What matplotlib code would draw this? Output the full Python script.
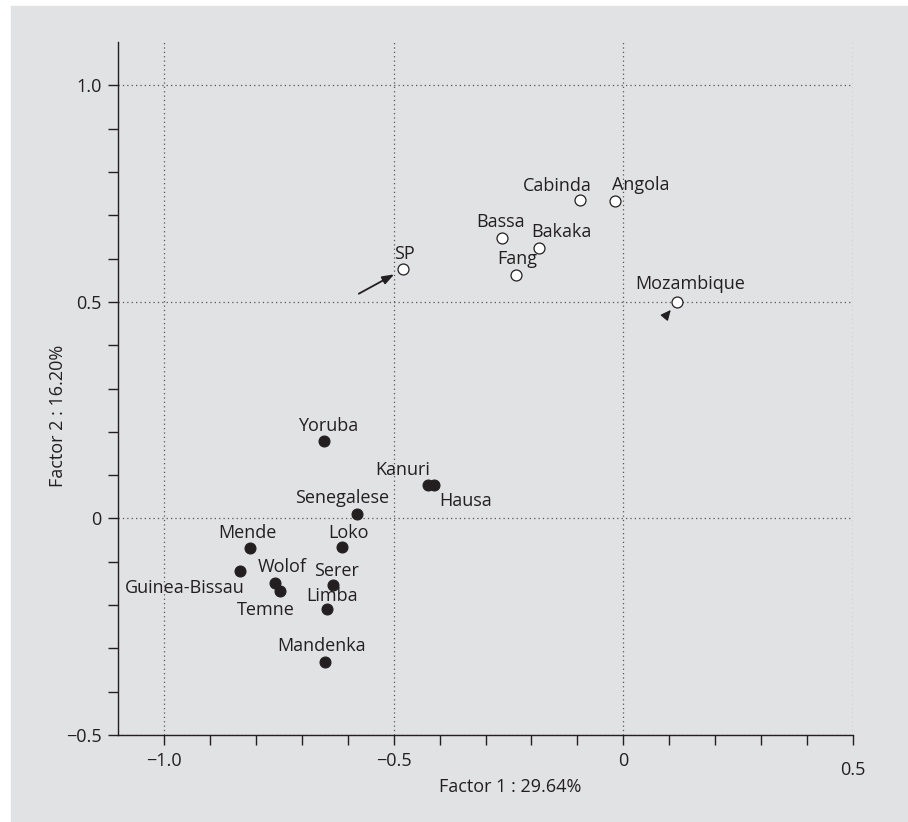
import matplotlib.pyplot as plt
from matplotlib.patches import Rectangle
from matplotlib.ticker import FixedLocator, NullFormatter

plt.rcParams['font.family'] = ['Open Sans', 'DejaVu Sans']
plt.rcParams['axes.unicode_minus'] = True

INK = '#231f20'
BG = '#e1e2e4'

# Correspondence analysis scores, factors 1 and 2
populations = ['Yoruba', 'Senegalese', 'Mende', 'Loko', 'Guinea-Bissau', 'Wolof',
               'Temne', 'Serer', 'Limba', 'Mandenka', 'Kanuri', 'Hausa',
               'SP', 'Bassa', 'Bakaka', 'Fang', 'Cabinda', 'Angola', 'Mozambique']
factor1 = [-0.651, -0.579, -0.812, -0.612, -0.835, -0.759,
           -0.748, -0.632, -0.646, -0.649, -0.425, -0.412,
           -0.479, -0.265, -0.183, -0.233, -0.095, -0.019, 0.117]
factor2 = [0.178, 0.011, -0.069, -0.067, -0.121, -0.148,
           -0.167, -0.153, -0.209, -0.331, 0.078, 0.078,
           0.575, 0.648, 0.624, 0.562, 0.736, 0.734, 0.499]
# filled = West Africa, open = Bantu / other groups
filled = [True] * 12 + [False] * 7

x_major = [-1.0, -0.5, 0.0, 0.5]
x_major_labels = ['\u22121.0', '\u22120.5', '0', '0.5']
y_major = [-0.5, 0.0, 0.5, 1.0]
y_major_labels = ['\u22120.5', '0', '0.5', '1.0']

# label placement: (dx, dy) in pixels from the point (dy down), alignment
label_pos = {
    'Yoruba': (4, -10, 'center'), 'Senegalese': (-15, -10.6, 'center'),
    'Mende': (-3, -10.3, 'center'), 'Loko': (6, -9.3, 'center'),
    'Guinea-Bissau': (5.3, 22.4, 'right'), 'Wolof': (8, -10.3, 'center'),
    'Temne': (-14.3, 24, 'center'), 'Serer': (3.7, -8.6, 'center'),
    'Limba': (5.5, -7.7, 'center'), 'Mandenka': (-3.3, -11.3, 'center'),
    'Kanuri': (1.6, -10, 'right'), 'Hausa': (32, 21.4, 'center'),
    'SP': (1.5, -10.7, 'center'), 'Bassa': (-1.2, -11, 'center'),
    'Bakaka': (21.8, -11, 'center'), 'Fang': (1, -11.4, 'center'),
    'Cabinda': (-22.3, -8.3, 'center'), 'Angola': (25.7, -11, 'center'),
    'Mozambique': (13, -13.4, 'center'),
}

W, H = 908, 822
fig = plt.figure(figsize=(W / 100, H / 100), dpi=100, facecolor='white')
fig.patches.append(Rectangle((11 / W, 0), 1 - 11 / W, 1 - 6 / H,
                             transform=fig.transFigure, color=BG, zorder=-10))

ax = fig.add_axes([118 / W, 87 / H, 735 / W, 693 / H])
ax.set_facecolor('none')
ax.set_xlim(-1.1, 0.5)
ax.set_ylim(-0.5, 1.1)

for s in ['top', 'right']:
    ax.spines[s].set_visible(False)
for s in ['left', 'bottom']:
    ax.spines[s].set_color(INK)
    ax.spines[s].set_linewidth(1.0)

ax.xaxis.set_major_locator(FixedLocator(x_major))
ax.set_xticklabels(x_major_labels)
ax.yaxis.set_major_locator(FixedLocator(y_major))
ax.set_yticklabels(y_major_labels)
ax.xaxis.set_minor_locator(FixedLocator([-0.9, -0.8, -0.7, -0.6, -0.4, -0.3, -0.2, -0.1,
                                         0.1, 0.2, 0.3, 0.4]))
ax.yaxis.set_minor_locator(FixedLocator([-0.4, -0.3, -0.2, -0.1, 0.1, 0.2, 0.3, 0.4,
                                         0.6, 0.7, 0.8, 0.9]))
ax.xaxis.set_minor_formatter(NullFormatter())
ax.yaxis.set_minor_formatter(NullFormatter())
ax.tick_params(axis='both', which='both', direction='out', length=7, width=1.0,
               color=INK, labelcolor=INK, labelsize=13)
ax.tick_params(axis='x', which='major', pad=5)
ax.tick_params(axis='y', which='major', pad=5)
ax.xaxis.get_major_ticks()[-1].set_pad(12)

ax.grid(True, which='major', linestyle=(0, (1, 2.5)), linewidth=0.9, color='#555555')
ax.set_axisbelow(True)

ax.set_xlabel('Factor 1 : 29.64%', fontsize=13, color=INK, va='baseline')
ax.xaxis.set_label_coords(0.533, -0.0818)
ax.set_ylabel('Factor 2 : 16.20%', fontsize=13, color=INK, va='center')
ax.yaxis.set_label_coords(-0.0816, 0.460)

fx = [x for x, f in zip(factor1, filled) if f]
fy = [y for y, f in zip(factor2, filled) if f]
ox = [x for x, f in zip(factor1, filled) if not f]
oy = [y for y, f in zip(factor2, filled) if not f]
ax.scatter(fx, fy, s=62, color=INK, edgecolor=INK, linewidth=0.8, zorder=3)
ax.scatter(ox, oy, s=62, color='white', edgecolor=INK, linewidth=0.9, zorder=3)

px2pt = 0.72
for name, x, y in zip(populations, factor1, factor2):
    dx, dy, ha = label_pos[name]
    ax.annotate(name, (x, y), xytext=(dx * px2pt, -dy * px2pt),
                textcoords='offset points', ha=ha, va='baseline',
                fontsize=13, color=INK, zorder=4)

# arrows pointing at SP and Mozambique
sp = populations.index('SP')
ax.annotate('', xy=(factor1[sp], factor2[sp]), xytext=(-32, -17.5),
            textcoords='offset points',
            arrowprops=dict(arrowstyle='-|>,head_length=0.7,head_width=0.25',
                            color=INK, lw=1.3, shrinkA=0, shrinkB=7.4,
                            mutation_scale=10))
mz = populations.index('Mozambique')
ax.annotate('', xy=(factor1[mz], factor2[mz]), xytext=(-9.1, -11.0),
            textcoords='offset points',
            arrowprops=dict(arrowstyle='-|>,head_length=0.6,head_width=0.28',
                            color=INK, lw=1.0, shrinkA=0, shrinkB=7.1,
                            mutation_scale=10))

fig.savefig('out.png', dpi=100, facecolor=fig.get_facecolor())
